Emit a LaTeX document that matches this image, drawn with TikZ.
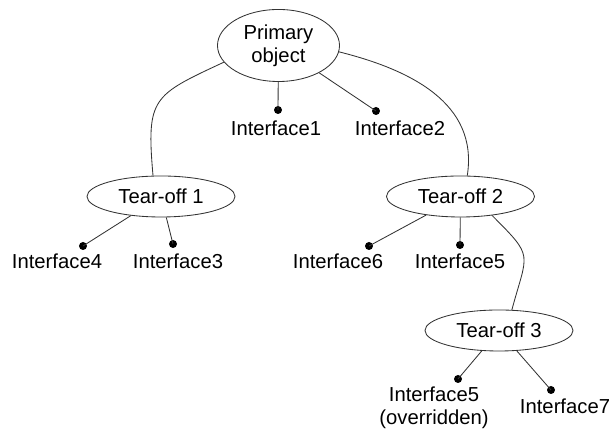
\documentclass[tikz,border=0pt]{standalone}
\usepackage{fontspec}
\setmainfont{Liberation Sans}
\usetikzlibrary{shapes.geometric}

\begin{document}
\begin{tikzpicture}[x=0.025cm, y=0.025cm,
  link/.style={line width=0.6pt, draw=black!80},
  objnode/.style={ellipse, draw=black!80, line width=0.6pt, inner sep=0pt, align=center,
    font=\fontsize{14.4}{16.5}\selectfont},
  primnode/.style={objnode, minimum width=3.05cm, minimum height=1.8cm},
  tearoff/.style={objnode, minimum width=3.7cm, minimum height=1.025cm},
  ifdot/.style={circle, fill=black, inner sep=0pt, minimum size=0.2cm},
  iflabel/.style={align=center, inner sep=0pt, font=\fontsize{14.4}{16.5}\selectfont}]
  \useasboundingbox (0,0) rectangle (614,431);

  % --- Objects ---
  \node[primnode] (prim) at (278.5,385.5) {Primary\\object};
  \node[tearoff] (t1) at (161,234.5) {Tear-off 1};
  \node[tearoff] (t2) at (460.5,234.5) {Tear-off 2};
  \node[tearoff] (t3) at (499,100.5) {Tear-off 3};

  % --- Interface dots ---
  \node[ifdot] (i1) at (278,321) {};
  \node[ifdot] (i2) at (376,320) {};
  \node[ifdot] (i4) at (83,185) {};
  \node[ifdot] (i3) at (173,187) {};
  \node[ifdot] (i6) at (369,185) {};
  \node[ifdot] (i5) at (460,186) {};
  \node[ifdot] (i5o) at (458,52) {};
  \node[ifdot] (i7) at (551,41) {};

  % --- Interface labels ---
  \node[iflabel] (l1) at (276,302.5) {Interface1};
  \node[iflabel] (l2) at (400,302.5) {Interface2};
  \node[iflabel] (l4) at (57,169.5) {Interface4};
  \node[iflabel] (l3) at (178,169.5) {Interface3};
  \node[iflabel] (l6) at (338,169.5) {Interface6};
  \node[iflabel] (l5) at (460,169.5) {Interface5};
  \node[iflabel] (l5o) at (434,23) {Interface5\\(overridden)};
  \node[iflabel] (l7) at (565,24.5) {Interface7};

  % --- Interface stems ---
  \draw[link] (prim) -- (i1.center);
  \draw[link] (prim) -- (i2.center);
  \draw[link] (t1) -- (i4.center);
  \draw[link] (t1) -- (i3.center);
  \draw[link] (t2) -- (i6.center);
  \draw[link] (t2) -- (i5.center);
  \draw[link] (t3) -- (i5o.center);
  \draw[link] (t3) -- (i7.center);

  % --- Tear-off links ---
  \draw[link] (prim.197) to[out=205, in=95, looseness=1.5] (t1.111);
  \draw[link] (prim.354) to[out=346, in=81, looseness=1.05] (t2.72);
  \draw[link] (t2.-31) to[out=-45, in=75, looseness=1.6] (t3.58);
\end{tikzpicture}
\end{document}
